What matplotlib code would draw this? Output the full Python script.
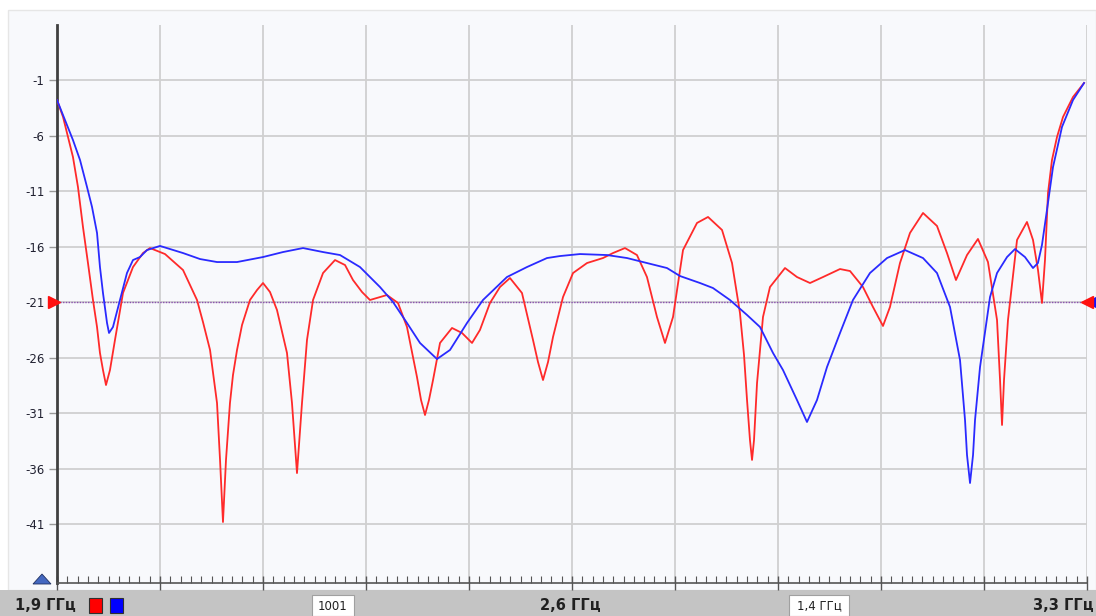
import matplotlib
matplotlib.use('Agg')
import matplotlib.pyplot as plt
from matplotlib.patches import Rectangle
import numpy as np

# --- data (GHz, dB) ---
red_f = [1.9000, 1.9082, 1.9217, 1.9285, 1.9353, 1.9421, 1.9489, 1.9544, 1.9584, 1.9625,
         1.9666, 1.9720, 1.9788, 1.9897, 2.0033, 2.0169, 2.0264, 2.0468, 2.0713, 2.0903,
         2.0984, 2.1080, 2.1175, 2.1216, 2.1256, 2.1297, 2.1351, 2.1392, 2.1447, 2.1515,
         2.1623, 2.1719, 2.1800, 2.1895, 2.1990, 2.2126, 2.2194, 2.2262, 2.2330, 2.2398,
         2.2480, 2.2616, 2.2779, 2.2915, 2.3023, 2.3146, 2.3254, 2.3485, 2.3635, 2.3757,
         2.3893, 2.3948, 2.4002, 2.4056, 2.4111, 2.4206, 2.4369, 2.4505, 2.4641, 2.4749,
         2.4885, 2.5021, 2.5157, 2.5320, 2.5470, 2.5538, 2.5606, 2.5674, 2.5742, 2.5878,
         2.6014, 2.6204, 2.6421, 2.6557, 2.6720, 2.6883, 2.7019, 2.7155, 2.7264, 2.7373,
         2.7509, 2.7699, 2.7849, 2.8039, 2.8175, 2.8283, 2.8338, 2.8379, 2.8419, 2.8447,
         2.8474, 2.8515, 2.8596, 2.8691, 2.8895, 2.9058, 2.9235, 2.9412, 2.9643, 2.9779,
         2.9955, 3.0091, 3.0227, 3.0322, 3.0458, 3.0594, 3.0771, 3.0961, 3.1097, 3.1219,
         3.1369, 3.1518, 3.1654, 3.1777, 3.1818, 3.1845, 3.1872, 3.1926, 3.2049, 3.2184,
         3.2266, 3.2334, 3.2388, 3.2429, 3.2470, 3.2524, 3.2592, 3.2674, 3.2742, 3.2810,
         3.2960]
red_db = [-2.80, -4.33, -7.94, -10.64, -14.24, -17.49, -20.82, -23.25, -25.59, -27.13,
          -28.48, -27.13, -24.42, -20.19, -17.85, -16.59, -16.14, -16.68, -18.12, -20.82,
          -22.80, -25.32, -30.10, -35.23, -40.82, -35.23, -30.10, -27.58, -25.32, -23.07,
          -20.82, -19.92, -19.29, -20.10, -21.72, -25.59, -30.10, -36.41, -30.10, -24.42,
          -20.82, -18.39, -17.22, -17.67, -19.02, -20.10, -20.82, -20.37, -21.09, -23.25,
          -27.76, -29.83, -31.18, -29.83, -28.03, -24.69, -23.34, -23.79, -24.69, -23.52,
          -21.09, -19.65, -18.84, -20.19, -24.42, -26.41, -28.03, -26.41, -24.15, -20.55,
          -18.39, -17.49, -17.04, -16.59, -16.14, -16.77, -18.75, -22.35, -24.69, -22.35,
          -16.32, -13.88, -13.34, -14.51, -17.49, -21.99, -25.77, -29.83, -33.43, -35.23,
          -33.43, -28.30, -22.35, -19.65, -17.94, -18.75, -19.29, -18.75, -18.03, -18.21,
          -19.65, -21.45, -23.16, -21.45, -17.49, -14.78, -12.98, -14.15, -16.59, -19.02,
          -16.77, -15.32, -17.40, -22.62, -28.03, -32.08, -28.03, -22.62, -15.41, -13.79,
          -15.41, -18.12, -21.09, -17.22, -11.18, -8.21, -6.14, -4.33, -3.43, -2.53,
          -1.27]

blue_f = [1.9000, 1.9217, 1.9313, 1.9408, 1.9476, 1.9544, 1.9584, 1.9625, 1.9680, 1.9707,
          1.9761, 1.9856, 1.9951, 2.0033, 2.0128, 2.0223, 2.0400, 2.0713, 2.0944, 2.1175,
          2.1447, 2.1800, 2.2072, 2.2344, 2.2616, 2.2847, 2.3118, 2.3390, 2.3567, 2.3757,
          2.3934, 2.4165, 2.4342, 2.4573, 2.4790, 2.5116, 2.5388, 2.5660, 2.5837, 2.6109,
          2.6476, 2.6748, 2.6965, 2.7291, 2.7468, 2.7740, 2.7916, 2.8147, 2.8379, 2.8555,
          2.8732, 2.8868, 2.9058, 2.9194, 2.9330, 2.9466, 2.9643, 2.9819, 3.0050, 3.0282,
          3.0526, 3.0771, 3.0961, 3.1138, 3.1274, 3.1342, 3.1369, 3.1410, 3.1451, 3.1478,
          3.1546, 3.1682, 3.1777, 3.1913, 3.2021, 3.2157, 3.2266, 3.2333, 3.2388, 3.2456,
          3.2538, 3.2660, 3.2810, 3.2960]
blue_db = [-2.80, -6.41, -8.21, -10.64, -12.44, -14.78, -17.85, -20.19, -22.89, -23.79,
           -23.25, -20.82, -18.39, -17.22, -16.95, -16.32, -15.95, -16.59, -17.13, -17.40,
           -17.40, -16.95, -16.50, -16.14, -16.50, -16.77, -17.85, -19.65, -21.00, -22.89,
           -24.69, -26.14, -25.32, -22.89, -20.82, -18.75, -17.85, -17.04, -16.86, -16.68,
           -16.77, -17.04, -17.40, -17.94, -18.66, -19.29, -19.74, -20.82, -22.17, -23.25,
           -25.59, -27.13, -29.83, -31.81, -29.83, -26.86, -23.79, -20.82, -18.39, -17.04,
           -16.32, -17.04, -18.39, -21.45, -26.23, -31.63, -34.78, -37.31, -34.78, -31.63,
           -26.86, -20.55, -18.39, -16.95, -16.23, -16.95, -17.94, -17.49, -15.86, -12.71,
           -8.84, -5.23, -2.80, -1.27]

y_ticks = [-1, -6, -11, -16, -21, -26, -31, -36, -41]
ref_level = -21
f_start, f_stop = 1.9, 3.3
center_label = '2,6 ГГц'
span_label = '1,4 ГГц'
points_label = '1001'

W, H = 1096, 616


def fx(x):
    return x / W


def fy(y):
    return 1 - y / H


fig = plt.figure(figsize=(W / 100, H / 100), dpi=100)
fig.patch.set_facecolor('white')

# background panel and bottom status strip
fig.add_artist(Rectangle((fx(8), fy(590)), fx(1096) - fx(8), fy(10) - fy(590),
                         transform=fig.transFigure, facecolor='#f8f9fc',
                         edgecolor='#e6e6e6', lw=1, zorder=0))
fig.add_artist(Rectangle((0, 0), 1, fy(590), transform=fig.transFigure,
                         facecolor='#c4c4c4', edgecolor='none', zorder=0))

ax = fig.add_axes([fx(57), fy(583), fx(1087) - fx(57), fy(25) - fy(583)])
ax.set_facecolor('none')
ax.set_xlim(f_start, f_stop)
ax.set_ylim(-1 - (583 - 80) / 11.1, -1 + (80 - 25) / 11.1)

ax.set_xticks(np.linspace(f_start, f_stop, 11))
ax.set_xticks(np.linspace(f_start, f_stop, 101), minor=True)
ax.set_xticklabels([])
ax.set_yticks(y_ticks)
ax.set_yticklabels([str(v) for v in y_ticks], fontsize=8.5, color='#202030')
ax.grid(True, which='major', color='#d0d0d0', lw=1.3)
ax.tick_params(axis='x', which='major', direction='inout', length=10, color='#555555', width=1)
ax.tick_params(axis='x', which='minor', direction='in', length=5, color='#555555', width=0.8)
ax.tick_params(axis='y', direction='out', length=6, color='#999999', width=1, pad=3)

for s in ['top', 'right']:
    ax.spines[s].set_visible(False)
ax.spines['left'].set_color('#404040')
ax.spines['left'].set_linewidth(2)
ax.spines['bottom'].set_color('#555555')
ax.spines['bottom'].set_linewidth(1.2)

# reference line
ax.axhline(ref_level, color='#8a50b0', lw=1, ls=(0, (1, 1)), zorder=2)
ax.plot([f_start - 0.004], [ref_level], marker='>', color='#ff1010', ms=8, clip_on=False, zorder=5)
ax.plot([f_stop], [ref_level], marker='<', color='#ff1010', ms=8, clip_on=False, zorder=5)
ax.plot([f_stop + 0.007], [ref_level], marker='<', color='#1010ff', ms=8, clip_on=False, zorder=4)

ax.plot(red_f, red_db, color='#ff2a2a', lw=1.3, zorder=3)
ax.plot(blue_f, blue_db, color='#2a2aff', lw=1.3, zorder=4)

# start marker triangle
fig.add_artist(plt.Polygon([(fx(33), fy(584)), (fx(51), fy(584)), (fx(42), fy(574))],
                           closed=True, transform=fig.transFigure, facecolor='#4468c0',
                           edgecolor='#203060', lw=0.6, zorder=6))

# status strip texts
ty = fy(606)
fig.text(fx(15), ty, f'{f_start:.1f} ГГц'.replace('.', ','), fontsize=10.5, weight='bold',
         va='center', ha='left', color='#202020')
fig.add_artist(Rectangle((fx(89), fy(613)), fx(13), fy(598) - fy(613), transform=fig.transFigure,
                         facecolor='#ff0000', edgecolor='#303030', lw=0.8))
fig.add_artist(Rectangle((fx(110), fy(613)), fx(13), fy(598) - fy(613), transform=fig.transFigure,
                         facecolor='#0000ff', edgecolor='#303030', lw=0.8))
fig.add_artist(Rectangle((fx(312), 0), fx(42), fy(595), transform=fig.transFigure,
                         facecolor='white', edgecolor='#a0a0a0', lw=0.8))
fig.text(fx(333), ty, points_label, fontsize=8.5, va='center', ha='center', color='#202020')
fig.text(fx(570), ty, center_label, fontsize=10.5, weight='bold', va='center', ha='center',
         color='#202020')
fig.add_artist(Rectangle((fx(789), 0), fx(60), fy(595), transform=fig.transFigure,
                         facecolor='white', edgecolor='#a0a0a0', lw=0.8))
fig.text(fx(819), ty, span_label, fontsize=8.5, va='center', ha='center', color='#202020')
fig.text(fx(1094), ty, f'{f_stop:.1f} ГГц'.replace('.', ','), fontsize=10.5, weight='bold',
         va='center', ha='right', color='#202020')

fig.savefig('out.png', dpi=100)
